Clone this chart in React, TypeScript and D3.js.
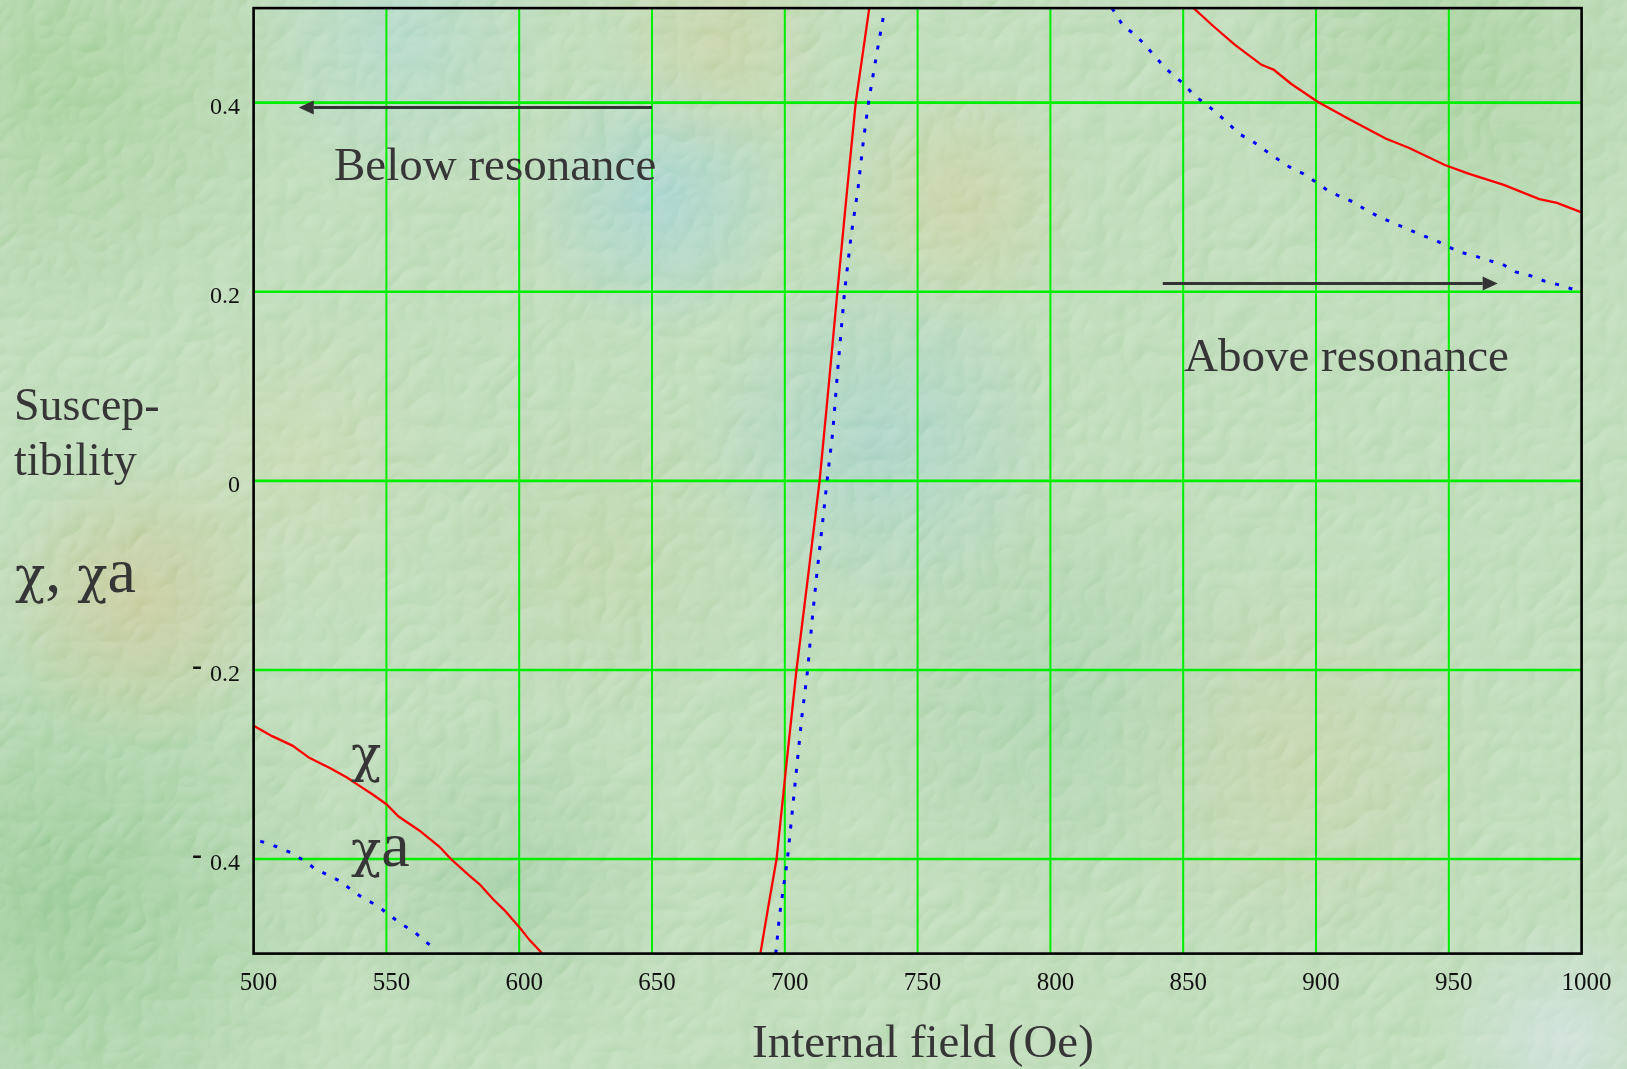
import React from "react";
import * as d3 from "d3";

// ---------- data ----------
const fieldTicks = [500, 550, 600, 650, 700, 750, 800, 850, 900, 950, 1000];
const suscTicks = [-0.4, -0.2, 0, 0.2, 0.4];
const suscTickLabels = ["-0.4", "-0.2", "0", "0.2", "0.4"];

// chi (real part), red solid — three branches
const chiLowField = [500, 507, 514.6, 521, 528.9, 535.3, 539, 545, 550, 554.6, 562.5, 570, 574.3, 581, 585.2, 590, 594.4, 600.3, 604, 608.7];
const chiLowValue = [-0.259, -0.27, -0.28, -0.293, -0.304, -0.314, -0.321, -0.332, -0.342, -0.355, -0.37, -0.387, -0.4, -0.417, -0.427, -0.442, -0.454, -0.473, -0.486, -0.5];
const chiResField = [690.8, 693.8, 696.9, 700.6, 704.4, 708.8, 713.1, 716.5, 719.8, 723.2, 726.7, 731.8];
const chiResValue = [-0.5, -0.45, -0.4, -0.3, -0.2, -0.1, 0, 0.1, 0.2, 0.3, 0.4, 0.5];
const chiHighField = [853.5, 861.7, 869.5, 879.5, 884, 890.6, 900.6, 912.9, 926.2, 935.1, 948.5, 957.4, 970.7, 984.1, 990.7, 1000];
const chiHighValue = [0.501, 0.48, 0.461, 0.44, 0.435, 0.42, 0.401, 0.382, 0.362, 0.352, 0.334, 0.325, 0.313, 0.298, 0.294, 0.284];

// chi_a, blue dotted — three branches
const chiALowField = [502.5, 508.7, 513.8, 518.6, 523, 528, 533.1, 537.3, 542.3, 546.5, 551, 555.8, 560.5, 564.5, 568.9];
const chiALowValue = [-0.381, -0.387, -0.393, -0.401, -0.41, -0.417, -0.424, -0.434, -0.443, -0.449, -0.459, -0.469, -0.477, -0.487, -0.496];
const chiAResField = [696.6, 698.0, 701.0, 702.8, 704.6, 706.4, 708.6, 710.2, 712.0, 714.0, 715.9, 718.0, 720.0, 722.5, 725.0, 727.6, 729.6, 731.5, 734.5, 737.7];
const chiAResValue = [-0.5, -0.46, -0.4, -0.35, -0.3, -0.25, -0.2, -0.15, -0.1, -0.05, 0, 0.05, 0.12, 0.2, 0.26, 0.31, 0.36, 0.4, 0.45, 0.5];
const chiAHighField = [823.2, 827.2, 831.7, 835.0, 842.8, 846.2, 850.6, 853.9, 858.8, 863.5, 867.3, 871.7, 876.2, 881.1, 885.7, 890.0, 895.1, 899.5, 904.0, 908.9, 914.0, 919.1, 924.0, 928.9, 934.0, 939.6, 944.5, 949.6, 954.1, 959.6, 965.2, 970.3, 975.2, 980.7, 986.3, 991.9, 997.5, 1000];
const chiAHighValue = [0.5, 0.482, 0.472, 0.463, 0.438, 0.429, 0.419, 0.408, 0.398, 0.387, 0.377, 0.366, 0.359, 0.349, 0.34, 0.332, 0.325, 0.317, 0.308, 0.301, 0.295, 0.286, 0.279, 0.273, 0.267, 0.26, 0.255, 0.248, 0.242, 0.238, 0.233, 0.229, 0.221, 0.217, 0.211, 0.207, 0.202, 0.2];

// annotation arrows (field from -> to, susceptibility level)
const belowArrow = { from: 650, to: 517, level: 0.395 };
const aboveArrow = { from: 842.3, to: 968.4, level: 0.2086 };

// ---------- layout ----------
const W = 1627;
const H = 1069;
const PL = 253.6;
const PR = 1581.6;
const PT = 8.1;
const PB = 953.6;
const FONT = "'Liberation Serif', 'Times New Roman', Times, serif";
const CHI_FONT = "'DejaVu Serif', 'Liberation Serif', serif";
const TEXT = "#363636";

const x = d3.scaleLinear().domain([500, 1000]).range([PL, PR]);
const y = d3.scaleLinear().domain([-0.5, 0.5]).range([PB, PT]);

const line = d3
  .line<[number, number]>()
  .x((d) => x(d[0]))
  .y((d) => y(d[1]))
  .curve(d3.curveLinear);

const zip = (a: number[], b: number[]): [number, number][] => a.map((v, i) => [v, b[i]]);

const blobs = [
  { cx: 60, cy: 80, r: 260, c: "#a9d39f", o: 0.7 },
  { cx: 60, cy: 900, r: 300, c: "#98cc98", o: 0.7 },
  { cx: 140, cy: 600, r: 150, c: "#d2c99a", o: 0.65 },
  { cx: 660, cy: 200, r: 140, c: "#a9d6dc", o: 0.7 },
  { cx: 880, cy: 440, r: 190, c: "#a8d4d6", o: 0.6 },
  { cx: 960, cy: 200, r: 130, c: "#d6d3a6", o: 0.6 },
  { cx: 1050, cy: 700, r: 220, c: "#a8d3b0", o: 0.55 },
  { cx: 400, cy: 40, r: 160, c: "#b5dcd8", o: 0.6 },
  { cx: 720, cy: 40, r: 120, c: "#d5d2a3", o: 0.5 },
  { cx: 1450, cy: 60, r: 220, c: "#a6d19c", o: 0.6 },
  { cx: 1300, cy: 760, r: 200, c: "#d2d2a8", o: 0.45 },
  { cx: 1560, cy: 1040, r: 130, c: "#d9e6ea", o: 0.7 },
  { cx: 500, cy: 880, r: 180, c: "#a3d0a7", o: 0.55 },
  { cx: 1450, cy: 450, r: 200, c: "#c3dfc0", o: 0.5 },
  { cx: 600, cy: 560, r: 170, c: "#c5d6a8", o: 0.45 },
  { cx: 300, cy: 460, r: 160, c: "#d7dcb4", o: 0.45 },
];

function Arrow({ from, to, level }: { from: number; to: number; level: number }) {
  const x1 = x(from);
  const x2 = x(to);
  const yy = y(level);
  const dir = Math.sign(x2 - x1);
  const head = 15;
  const half = 7;
  return (
    <g>
      <line x1={x1} y1={yy} x2={x2 - dir * head} y2={yy} stroke="#333" strokeWidth={3} />
      <polygon points={`${x2},${yy} ${x2 - dir * head},${yy - half} ${x2 - dir * head},${yy + half}`} fill="#333" />
    </g>
  );
}

const Chi = () => (
  <tspan fontFamily={CHI_FONT} fontSize="0.78em">
    χ
  </tspan>
);

export default function App() {
  const redBranches = [zip(chiLowField, chiLowValue), zip(chiResField, chiResValue), zip(chiHighField, chiHighValue)];
  const blueBranches = [zip(chiALowField, chiALowValue), zip(chiAResField, chiAResValue), zip(chiAHighField, chiAHighValue)];

  return (
    <svg
      width={W}
      height={H}
      viewBox={`0 0 ${W} ${H}`}
      style={{ position: "absolute", left: 0, top: 0, display: "block" }}
      fontFamily={FONT}
    >
      <defs>
        {blobs.map((b, i) => (
          <radialGradient key={i} id={`blob${i}`}>
            <stop offset="0%" stopColor={b.c} stopOpacity={b.o} />
            <stop offset="100%" stopColor={b.c} stopOpacity={0} />
          </radialGradient>
        ))}
        <filter id="stone" x="0" y="0" width="100%" height="100%" colorInterpolationFilters="sRGB">
          <feTurbulence type="turbulence" baseFrequency="0.028" numOctaves="2" seed="11" result="noise" />
          <feDiffuseLighting in="noise" lightingColor="#ffffff" surfaceScale="3" diffuseConstant="0.62" result="lit">
            <feDistantLight azimuth="225" elevation="50" />
          </feDiffuseLighting>
        </filter>
        <clipPath id="plotClip">
          <rect x={PL} y={PT} width={PR - PL} height={PB - PT} />
        </clipPath>
      </defs>

      {/* background */}
      <rect x={0} y={0} width={W} height={H} fill="#c4dfbf" />
      {blobs.map((b, i) => (
        <circle key={i} cx={b.cx} cy={b.cy} r={b.r} fill={`url(#blob${i})`} />
      ))}
      <rect
        x={0}
        y={0}
        width={W}
        height={H}
        filter="url(#stone)"
        opacity={0.45}
        style={{ mixBlendMode: "overlay" }}
      />

      {/* grid */}
      {fieldTicks.slice(1, -1).map((t) => (
        <line key={`v${t}`} x1={x(t)} x2={x(t)} y1={PT} y2={PB} stroke="#00ee00" strokeWidth={2} />
      ))}
      {suscTicks.map((t) => (
        <line key={`h${t}`} x1={PL} x2={PR} y1={y(t)} y2={y(t)} stroke="#00ee00" strokeWidth={2.6} />
      ))}

      {/* curves */}
      <g clipPath="url(#plotClip)">
        {redBranches.map((b, i) => (
          <path key={`r${i}`} d={line(b) || ""} fill="none" stroke="#ff0000" strokeWidth={2.3} />
        ))}
        {blueBranches.map((b, i) => (
          <path
            key={`b${i}`}
            d={line(b) || ""}
            fill="none"
            stroke="#0000ff"
            strokeWidth={3}
            strokeDasharray="4 10"
          />
        ))}
      </g>

      {/* frame */}
      <rect x={PL} y={PT} width={PR - PL} height={PB - PT} fill="none" stroke="#000" strokeWidth={2.6} />

      {/* tick labels */}
      {fieldTicks.map((t) => (
        <text key={`xl${t}`} x={x(t) + 5} y={990} textAnchor="middle" fontSize={25} fill="#111">
          {t}
        </text>
      ))}
      {suscTicks.map((t, i) => {
        const lab = suscTickLabels[i];
        const neg = lab.startsWith("-");
        return (
          <g key={`yl${t}`}>
            <text x={240} y={y(t) + 11} textAnchor="end" fontSize={24} fill="#111">
              {neg ? lab.slice(1) : lab}
            </text>
            {neg && (
              <text x={192} y={y(t) + 11} fontSize={30} fontWeight="bold" fill="#111">
                <tspan dy={-6}>-</tspan>
              </text>
            )}
          </g>
        );
      })}

      {/* axis titles */}
      <text x={752} y={1057} fontSize={47} fill={TEXT}>Internal field (Oe)</text>
      <text x={14} y={420} fontSize={46} fill={TEXT}>Suscep-</text>
      <text x={14} y={475} fontSize={46} fill={TEXT}>tibility</text>
      <text x={15} y={592} fontSize={64} fill={TEXT}>
        <Chi />, <Chi />a
      </text>

      {/* annotations */}
      <Arrow {...belowArrow} />
      <Arrow {...aboveArrow} />
      <text x={334} y={180} fontSize={47} fill={TEXT}>Below resonance</text>
      <text x={1184} y={371} fontSize={47} fill={TEXT}>Above resonance</text>
      <text x={351} y={771} fontSize={64} fill={TEXT}>
        <Chi />
      </text>
      <text x={351} y={866} fontSize={64} fill={TEXT}>
        <Chi />a
      </text>
    </svg>
  );
}
